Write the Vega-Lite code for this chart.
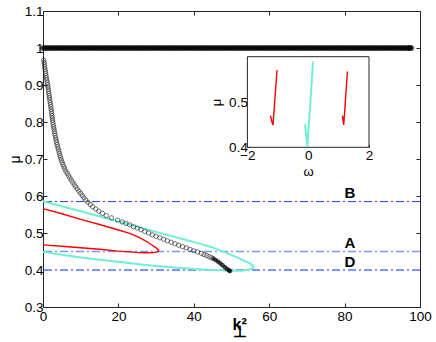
{
  "$schema": "https://vega.github.io/schema/vega-lite/v6.json",
  "width": 377,
  "height": 296,
  "autosize": "none",
  "padding": {"left": 43, "top": 11, "right": 16, "bottom": 35},
  "background": "white",
  "config": {
    "font": "Liberation Sans",
    "view": {"stroke": "#262626", "strokeWidth": 1},
    "axis": {
      "grid": false, "domain": false, "labelFontSize": 13.5, "labelColor": "#000",
      "tickColor": "#262626", "labelFlush": false, "labelOverlap": false,
      "titleFontWeight": "normal", "titleColor": "#000", "titleFontSize": 14,
      "tickSize": -4, "zindex": 1
    }
  },
  "datasets": {
    "top": [
      {"x":0,"y":1},{"x":1,"y":1},{"x":2,"y":1},{"x":3,"y":1},{"x":4,"y":1},{"x":5,"y":1},{"x":6,"y":1},{"x":7,"y":1},{"x":8,"y":1},{"x":9,"y":1},
      {"x":10,"y":1},{"x":11,"y":1},{"x":12,"y":1},{"x":13,"y":1},{"x":14,"y":1},{"x":15,"y":1},{"x":16,"y":1},{"x":17,"y":1},{"x":18,"y":1},{"x":19,"y":1},
      {"x":20,"y":1},{"x":21,"y":1},{"x":22,"y":1},{"x":23,"y":1},{"x":24,"y":1},{"x":25,"y":1},{"x":26,"y":1},{"x":27,"y":1},{"x":28,"y":1},{"x":29,"y":1},
      {"x":30,"y":1},{"x":31,"y":1},{"x":32,"y":1},{"x":33,"y":1},{"x":34,"y":1},{"x":35,"y":1},{"x":36,"y":1},{"x":37,"y":1},{"x":38,"y":1},{"x":39,"y":1},
      {"x":40,"y":1},{"x":41,"y":1},{"x":42,"y":1},{"x":43,"y":1},{"x":44,"y":1},{"x":45,"y":1},{"x":46,"y":1},{"x":47,"y":1},{"x":48,"y":1},{"x":49,"y":1},
      {"x":50,"y":1},{"x":51,"y":1},{"x":52,"y":1},{"x":53,"y":1},{"x":54,"y":1},{"x":55,"y":1},{"x":56,"y":1},{"x":57,"y":1},{"x":58,"y":1},{"x":59,"y":1},
      {"x":60,"y":1},{"x":61,"y":1},{"x":62,"y":1},{"x":63,"y":1},{"x":64,"y":1},{"x":65,"y":1},{"x":66,"y":1},{"x":67,"y":1},{"x":68,"y":1},{"x":69,"y":1},
      {"x":70,"y":1},{"x":71,"y":1},{"x":72,"y":1},{"x":73,"y":1},{"x":74,"y":1},{"x":75,"y":1},{"x":76,"y":1},{"x":77,"y":1},{"x":78,"y":1},{"x":79,"y":1},
      {"x":80,"y":1},{"x":81,"y":1},{"x":82,"y":1},{"x":83,"y":1},{"x":84,"y":1},{"x":85,"y":1},{"x":86,"y":1},{"x":87,"y":1},{"x":88,"y":1},{"x":89,"y":1},
      {"x":90,"y":1},{"x":91,"y":1},{"x":92,"y":1},{"x":93,"y":1},{"x":94,"y":1},{"x":95,"y":1},{"x":96,"y":1},{"x":97,"y":1},{"x":97.7,"y":1},
      {"x":0.5,"y":1},{"x":1.5,"y":1},{"x":2.5,"y":1},{"x":3.5,"y":1},{"x":4.5,"y":1},{"x":5.5,"y":1},{"x":6.5,"y":1},{"x":7.5,"y":1},{"x":8.5,"y":1},{"x":9.5,"y":1},
      {"x":10.5,"y":1},{"x":11.5,"y":1},{"x":12.5,"y":1},{"x":13.5,"y":1},{"x":14.5,"y":1},{"x":15.5,"y":1},{"x":16.5,"y":1},{"x":17.5,"y":1},{"x":18.5,"y":1},{"x":19.5,"y":1},
      {"x":20.5,"y":1},{"x":21.5,"y":1},{"x":22.5,"y":1},{"x":23.5,"y":1},{"x":24.5,"y":1},{"x":25.5,"y":1},{"x":26.5,"y":1},{"x":27.5,"y":1},{"x":28.5,"y":1},{"x":29.5,"y":1},
      {"x":30.5,"y":1},{"x":31.5,"y":1},{"x":32.5,"y":1},{"x":33.5,"y":1},{"x":34.5,"y":1},{"x":35.5,"y":1},{"x":36.5,"y":1},{"x":37.5,"y":1},{"x":38.5,"y":1},{"x":39.5,"y":1},
      {"x":40.5,"y":1},{"x":41.5,"y":1},{"x":42.5,"y":1},{"x":43.5,"y":1},{"x":44.5,"y":1},{"x":45.5,"y":1},{"x":46.5,"y":1},{"x":47.5,"y":1},{"x":48.5,"y":1},{"x":49.5,"y":1},
      {"x":50.5,"y":1},{"x":51.5,"y":1},{"x":52.5,"y":1},{"x":53.5,"y":1},{"x":54.5,"y":1},{"x":55.5,"y":1},{"x":56.5,"y":1},{"x":57.5,"y":1},{"x":58.5,"y":1},{"x":59.5,"y":1},
      {"x":60.5,"y":1},{"x":61.5,"y":1},{"x":62.5,"y":1},{"x":63.5,"y":1},{"x":64.5,"y":1},{"x":65.5,"y":1},{"x":66.5,"y":1},{"x":67.5,"y":1},{"x":68.5,"y":1},{"x":69.5,"y":1},
      {"x":70.5,"y":1},{"x":71.5,"y":1},{"x":72.5,"y":1},{"x":73.5,"y":1},{"x":74.5,"y":1},{"x":75.5,"y":1},{"x":76.5,"y":1},{"x":77.5,"y":1},{"x":78.5,"y":1},{"x":79.5,"y":1},
      {"x":80.5,"y":1},{"x":81.5,"y":1},{"x":82.5,"y":1},{"x":83.5,"y":1},{"x":84.5,"y":1},{"x":85.5,"y":1},{"x":86.5,"y":1},{"x":87.5,"y":1},{"x":88.5,"y":1},{"x":89.5,"y":1},
      {"x":90.5,"y":1},{"x":91.5,"y":1},{"x":92.5,"y":1},{"x":93.5,"y":1},{"x":94.5,"y":1},{"x":95.5,"y":1},{"x":96.5,"y":1},{"x":97.3,"y":1}
    ],
    "curveOpen": [
      {"x":0.20,"y":0.967},{"x":0.29,"y":0.961},{"x":0.38,"y":0.955},{"x":0.46,"y":0.949},{"x":0.54,"y":0.943},{"x":0.63,"y":0.937},{"x":0.71,"y":0.931},{"x":0.81,"y":0.925},{"x":0.91,"y":0.919},{"x":1.02,"y":0.913},
      {"x":1.13,"y":0.907},{"x":1.23,"y":0.901},{"x":1.32,"y":0.895},{"x":1.40,"y":0.889},{"x":1.48,"y":0.883},{"x":1.56,"y":0.877},{"x":1.64,"y":0.871},{"x":1.72,"y":0.865},{"x":1.81,"y":0.859},{"x":1.90,"y":0.853},
      {"x":1.99,"y":0.847},{"x":2.08,"y":0.841},{"x":2.16,"y":0.835},{"x":2.24,"y":0.829},{"x":2.31,"y":0.823},{"x":2.39,"y":0.817},{"x":2.46,"y":0.811},{"x":2.54,"y":0.805},{"x":2.62,"y":0.799},{"x":2.72,"y":0.793},
      {"x":2.82,"y":0.787},{"x":2.92,"y":0.781},{"x":3.02,"y":0.775},{"x":3.12,"y":0.769},{"x":3.24,"y":0.763},{"x":3.36,"y":0.757},{"x":3.48,"y":0.751},{"x":3.60,"y":0.745},{"x":3.73,"y":0.739},{"x":3.89,"y":0.733},
      {"x":4.04,"y":0.727},{"x":4.20,"y":0.721},{"x":4.36,"y":0.715},{"x":4.52,"y":0.709},{"x":4.67,"y":0.703},{"x":4.86,"y":0.697},{"x":5.09,"y":0.691},{"x":5.32,"y":0.685},{"x":5.55,"y":0.679},{"x":5.78,"y":0.673},
      {"x":6.08,"y":0.667},{"x":6.43,"y":0.661},{"x":6.79,"y":0.655},{"x":7.14,"y":0.649},{"x":7.50,"y":0.643},{"x":7.89,"y":0.637},{"x":8.28,"y":0.631},{"x":8.67,"y":0.625},{"x":9.08,"y":0.619},{"x":9.53,"y":0.613},
      {"x":9.98,"y":0.607},{"x":10.43,"y":0.601},{"x":10.88,"y":0.595},{"x":11.36,"y":0.589},{"x":11.91,"y":0.583},{"x":12.55,"y":0.577},{"x":13.19,"y":0.571},{"x":13.98,"y":0.565},{"x":14.81,"y":0.559},{"x":15.77,"y":0.553},
      {"x":16.77,"y":0.547},{"x":18.18,"y":0.541},{"x":19.8,"y":0.535},{"x":21,"y":0.530},{"x":22,"y":0.526},{"x":23,"y":0.522},{"x":24,"y":0.517},{"x":25,"y":0.513},{"x":26,"y":0.509},{"x":27,"y":0.504},
      {"x":28,"y":0.500},{"x":29,"y":0.495},{"x":30,"y":0.491},{"x":31,"y":0.487},{"x":32,"y":0.483},{"x":33,"y":0.479},{"x":34,"y":0.475},{"x":35,"y":0.471},{"x":36,"y":0.467},{"x":37,"y":0.463},
      {"x":38,"y":0.460},{"x":39,"y":0.456},{"x":40,"y":0.452},{"x":41,"y":0.449},{"x":42,"y":0.445},{"x":42.7,"y":0.442},{"x":43.4,"y":0.439},{"x":44.1,"y":0.436},{"x":44.7,"y":0.433}
    ],
    "curveFilled": [
      {"x":45.2,"y":0.431},{"x":45.8,"y":0.427},{"x":46.4,"y":0.423},{"x":47,"y":0.418},{"x":47.6,"y":0.413},{"x":48.2,"y":0.408},{"x":48.8,"y":0.403},{"x":49.3,"y":0.399},{"x":49.6,"y":0.397}
    ],
    "red": [
      {"i":0,"x":0,"y":0.566},{"i":1,"x":5,"y":0.552},{"i":2,"x":10,"y":0.537},{"i":3,"x":15,"y":0.523},{"i":4,"x":20,"y":0.508},{"i":5,"x":23,"y":0.499},{"i":6,"x":25.5,"y":0.488},
      {"i":7,"x":27.5,"y":0.477},{"i":8,"x":29,"y":0.467},{"i":9,"x":30,"y":0.46},{"i":10,"x":30.6,"y":0.455},{"i":11,"x":30.7,"y":0.452},{"i":12,"x":30.3,"y":0.449},{"i":13,"x":29.3,"y":0.447},
      {"i":14,"x":27.5,"y":0.4465},{"i":15,"x":25.7,"y":0.447},{"i":16,"x":20,"y":0.451},{"i":17,"x":15,"y":0.456},{"i":18,"x":10,"y":0.460},{"i":19,"x":5,"y":0.464},{"i":20,"x":0,"y":0.468}
    ],
    "cyan": [
      {"i":0,"x":0,"y":0.586},{"i":1,"x":10,"y":0.559},{"i":2,"x":20,"y":0.531},{"i":3,"x":30,"y":0.503},{"i":4,"x":38,"y":0.481},{"i":5,"x":42,"y":0.470},{"i":6,"x":45,"y":0.461},
      {"i":7,"x":48,"y":0.449},{"i":8,"x":50.5,"y":0.438},{"i":9,"x":53,"y":0.427},{"i":10,"x":55,"y":0.417},{"i":11,"x":55.8,"y":0.411},{"i":12,"x":55.9,"y":0.407},{"i":13,"x":55.3,"y":0.403},
      {"i":14,"x":54.3,"y":0.400},{"i":15,"x":52.5,"y":0.398},{"i":16,"x":50,"y":0.398},{"i":17,"x":45,"y":0.400},{"i":18,"x":40,"y":0.403},{"i":19,"x":35,"y":0.407},{"i":20,"x":30,"y":0.411},
      {"i":21,"x":25,"y":0.416},{"i":22,"x":20,"y":0.422},{"i":23,"x":15,"y":0.428},{"i":24,"x":10,"y":0.434},{"i":25,"x":5,"y":0.441},{"i":26,"x":0,"y":0.449}
    ],
    "levels": [{"y":0.585,"c":"B"},{"y":0.45,"c":"A"},{"y":0.40,"c":"D"}],
    "labels": [{"x":81.4,"y":0.607,"t":"B"},{"x":81.4,"y":0.472,"t":"A"},{"x":81.4,"y":0.421,"t":"D"}],
    "insetBox": [{"w":-2,"w2":2,"m":0.4,"m2":0.603}],
    "insetRed": [
      {"g":"left","i":0,"w":-1.243,"m":0.471},{"g":"left","i":1,"w":-1.2,"m":0.459},{"g":"left","i":2,"w":-1.158,"m":0.45},{"g":"left","i":3,"w":-1.12,"m":0.484},{"g":"left","i":4,"w":-1.09,"m":0.513},{"g":"left","i":5,"w":-1.06,"m":0.542},{"g":"left","i":6,"w":-1.026,"m":0.573},
      {"g":"right","i":0,"w":1.125,"m":0.471},{"g":"right","i":1,"w":1.148,"m":0.459},{"g":"right","i":2,"w":1.168,"m":0.45},{"g":"right","i":3,"w":1.2,"m":0.48},{"g":"right","i":4,"w":1.23,"m":0.51},{"g":"right","i":5,"w":1.26,"m":0.54},{"g":"right","i":6,"w":1.29,"m":0.570}
    ],
    "insetCyan": [
      {"i":0,"w":-0.105,"m":0.452},{"i":1,"w":-0.065,"m":0.426},{"i":2,"w":-0.026,"m":0.401},{"i":3,"w":0.02,"m":0.45},{"i":4,"w":0.09,"m":0.52},{"i":5,"w":0.158,"m":0.592}
    ]
  },
  "layer": [
    {
      "data": {"name": "levels"},
      "mark": {"type": "rule", "strokeDash": [8, 3, 2, 3]},
      "encoding": {
        "y": {"field": "y", "type": "quantitative", "scale": {"domain": [0.3, 1.1], "nice": false, "zero": false}, "axis": null},
        "color": {"field": "c", "type": "nominal", "scale": {"domain": ["B", "A", "D"], "range": ["#2243e0", "#7f93ff", "#7f93ff"]}, "legend": null},
        "size": {"field": "c", "type": "nominal", "scale": {"domain": ["B", "A", "D"], "range": [1, 1.8, 1.8]}, "legend": null}
      }
    },
    {
      "data": {"name": "red"},
      "mark": {"type": "line", "color": "#ff0000", "strokeWidth": 1.4},
      "encoding": {
        "x": {"field": "x", "type": "quantitative", "scale": {"domain": [0, 100], "nice": false, "zero": false}, "axis": null},
        "y": {"field": "y", "type": "quantitative", "scale": {"domain": [0.3, 1.1], "nice": false, "zero": false}, "axis": null},
        "order": {"field": "i", "type": "quantitative"}
      }
    },
    {
      "data": {"name": "cyan"},
      "mark": {"type": "line", "color": "#6ff0d6", "strokeWidth": 2},
      "encoding": {
        "x": {"field": "x", "type": "quantitative", "scale": {"domain": [0, 100], "nice": false, "zero": false}, "axis": null},
        "y": {"field": "y", "type": "quantitative", "scale": {"domain": [0.3, 1.1], "nice": false, "zero": false}, "axis": null},
        "order": {"field": "i", "type": "quantitative"}
      }
    },
    {
      "data": {"name": "curveOpen"},
      "mark": {"type": "point", "filled": false, "color": "#222", "size": 19, "strokeWidth": 0.9},
      "encoding": {
        "x": {"field": "x", "type": "quantitative", "scale": {"domain": [0, 100], "nice": false, "zero": false},
              "axis": {"orient": "bottom", "values": [0, 20, 40, 60, 80, 100], "labelPadding": 6, "title": ["k²", "\u00a0\u00a0\u00a0⊥"], "titleFontWeight": "bold", "titleFontSize": 16, "titleAlign": "left", "titleX": 189, "titleLineHeight": 7, "titlePadding": -6}},
        "y": {"field": "y", "type": "quantitative", "scale": {"domain": [0.3, 1.1], "nice": false, "zero": false},
              "axis": {"orient": "left", "values": [0.3, 0.4, 0.5, 0.6, 0.7, 0.8, 0.9, 1, 1.1], "format": "~g", "labelPadding": 4, "title": "μ", "titlePadding": 2}}
      }
    },
    {
      "data": {"name": "curveFilled"},
      "mark": {"type": "point", "filled": true, "color": "#000", "size": 22},
      "encoding": {
        "x": {"field": "x", "type": "quantitative", "scale": {"domain": [0, 100], "nice": false, "zero": false}, "axis": null},
        "y": {"field": "y", "type": "quantitative", "scale": {"domain": [0.3, 1.1], "nice": false, "zero": false}, "axis": null}
      }
    },
    {
      "data": {"name": "top"},
      "mark": {"type": "point", "filled": true, "color": "#000", "size": 26, "stroke": "#000", "strokeWidth": 0.6},
      "encoding": {
        "x": {"field": "x", "type": "quantitative", "scale": {"domain": [0, 100], "nice": false, "zero": false},
              "axis": {"orient": "top", "values": [0, 20, 40, 60, 80, 100], "labels": false, "title": null}},
        "y": {"field": "y", "type": "quantitative", "scale": {"domain": [0.3, 1.1], "nice": false, "zero": false},
              "axis": {"orient": "right", "values": [0.3, 0.4, 0.5, 0.6, 0.7, 0.8, 0.9, 1, 1.1], "labels": false, "title": null}}
      }
    },
    {
      "data": {"name": "labels"},
      "mark": {"type": "text", "fontWeight": "bold", "fontSize": 15, "color": "#000", "baseline": "middle", "align": "center"},
      "encoding": {
        "x": {"field": "x", "type": "quantitative", "scale": {"domain": [0, 100], "nice": false, "zero": false}, "axis": null},
        "y": {"field": "y", "type": "quantitative", "scale": {"domain": [0.3, 1.1], "nice": false, "zero": false}, "axis": null},
        "text": {"field": "t", "type": "nominal"}
      }
    },
    {
      "data": {"name": "insetBox"},
      "mark": {"type": "rect", "fill": "white", "stroke": "#262626", "strokeWidth": 1},
      "encoding": {
        "x": {"field": "w", "type": "quantitative", "scale": {"domain": [-2, 2], "range": [204.4, 326], "nice": false, "zero": false},
              "axis": {"orient": "bottom", "offset": -159.7, "values": [-2, 0, 2], "tickSize": -3, "labelPadding": 4, "title": "ω", "titlePadding": 4, "titleFontSize": 13}},
        "x2": {"field": "w2"},
        "y": {"field": "m", "type": "quantitative", "scale": {"domain": [0.4, 0.603], "range": [136.3, 45.7], "nice": false, "zero": false},
              "axis": {"orient": "left", "offset": -204.4, "values": [0.4, 0.5], "tickSize": -3, "labelPadding": 3, "title": "μ", "titlePadding": 5, "titleFontSize": 13}},
        "y2": {"field": "m2"}
      }
    },
    {
      "data": {"name": "insetRed"},
      "mark": {"type": "line", "color": "#ff0000", "strokeWidth": 1.4},
      "encoding": {
        "x": {"field": "w", "type": "quantitative", "scale": {"domain": [-2, 2], "range": [204.4, 326], "nice": false, "zero": false}, "axis": null},
        "y": {"field": "m", "type": "quantitative", "scale": {"domain": [0.4, 0.603], "range": [136.3, 45.7], "nice": false, "zero": false}, "axis": null},
        "detail": {"field": "g", "type": "nominal"},
        "order": {"field": "i", "type": "quantitative"}
      }
    },
    {
      "data": {"name": "insetCyan"},
      "mark": {"type": "line", "color": "#6ff0d6", "strokeWidth": 2},
      "encoding": {
        "x": {"field": "w", "type": "quantitative", "scale": {"domain": [-2, 2], "range": [204.4, 326], "nice": false, "zero": false}, "axis": null},
        "y": {"field": "m", "type": "quantitative", "scale": {"domain": [0.4, 0.603], "range": [136.3, 45.7], "nice": false, "zero": false}, "axis": null},
        "order": {"field": "i", "type": "quantitative"}
      }
    }
  ],
  "resolve": {"scale": {"x": "independent", "y": "independent"}}
}
